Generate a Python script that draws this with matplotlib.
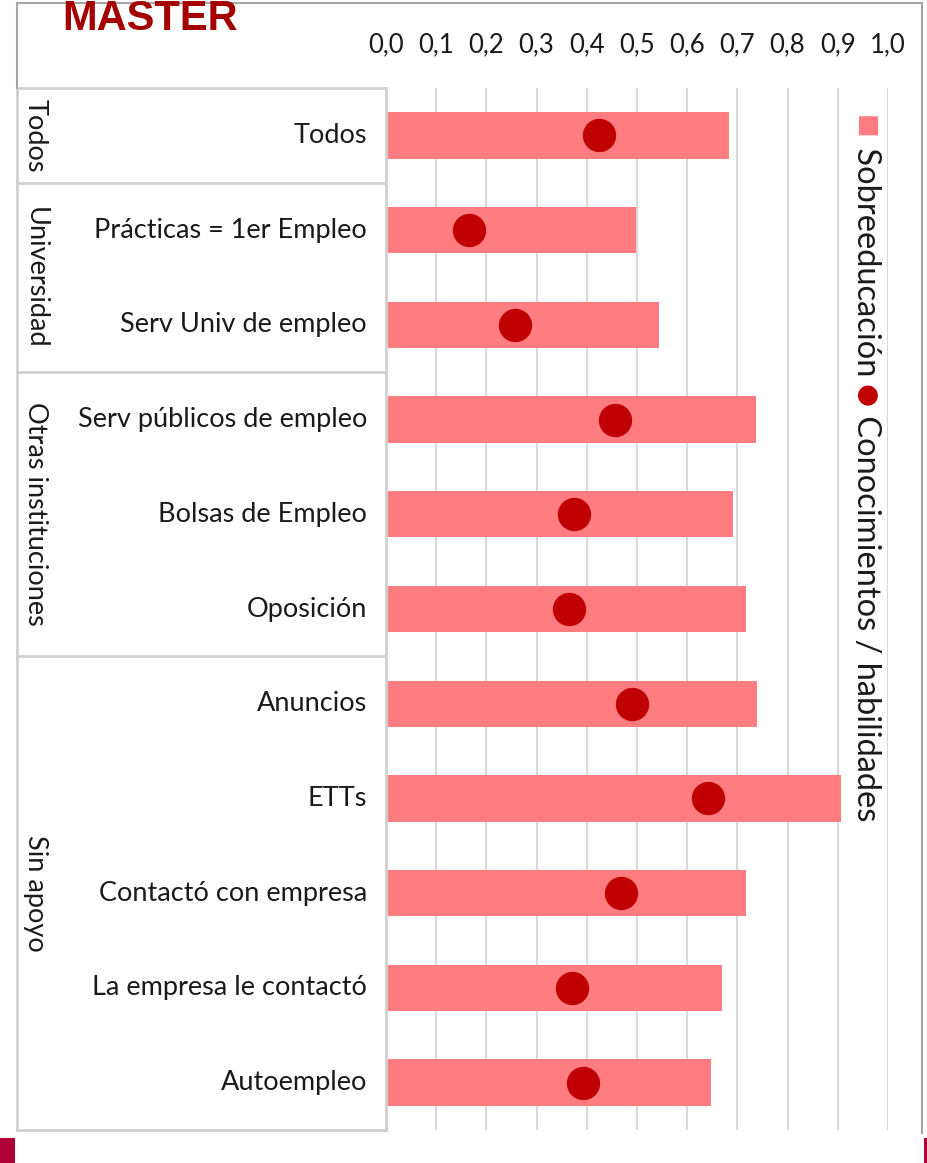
import matplotlib
matplotlib.use('Agg')
import matplotlib.pyplot as plt
from matplotlib.lines import Line2D
from matplotlib.patches import Rectangle
from matplotlib.ticker import FuncFormatter

# datos
categorias = ['Todos', 'Prácticas = 1er Empleo', 'Serv Univ de empleo',
              'Serv públicos de empleo', 'Bolsas de Empleo', 'Oposición',
              'Anuncios', 'ETTs', 'Contactó con empresa',
              'La empresa le contactó', 'Autoempleo']
sobreeducacion = [0.683, 0.498, 0.544, 0.737, 0.691, 0.717,
                  0.739, 0.906, 0.717, 0.669, 0.647]
conocimientos = [0.424, 0.165, 0.257, 0.456, 0.375, 0.365,
                 0.490, 0.641, 0.468, 0.371, 0.392]
grupos = ['Todos', 'Universidad', 'Otras instituciones', 'Sin apoyo']
grupo_n = [1, 2, 3, 5]

W, H = 928, 1163
FONT = 'Lato'
FS = 19.5
fig = plt.figure(figsize=(W / 100, H / 100), dpi=100)
fig.patch.set_facecolor('white')

def fx(px):
    return px / W

def fy(py):
    return 1 - py / H

top, bottom = 88, 1130
ax = fig.add_axes([fx(386), fy(bottom), fx(888 - 386), (bottom - top) / H])
tab = fig.add_axes([fx(17), fy(bottom), fx(386 - 17), (bottom - top) / H])

ypos = list(range(len(categorias)))
ax.barh(ypos, sobreeducacion, height=0.49, color='#FF7C80', zorder=2)
ax.plot(conocimientos, ypos, 'o', ms=23, color='#C00000', mec='#C00000', zorder=3)

ax.set_xlim(0, 1)
ax.set_ylim(len(categorias) - 0.5, -0.5)
ax.set_xticks([i / 10 for i in range(11)])
ax.xaxis.set_major_formatter(FuncFormatter(lambda v, p: f'{v:.1f}'.replace('.', ',')))
ax.xaxis.tick_top()
ax.tick_params(axis='x', length=0, pad=22, labelsize=18.5, labelcolor='#1a1a1a')
for lab in ax.get_xticklabels():
    lab.set_fontfamily(FONT)
ax.set_yticks([])
ax.grid(axis='x', color='#D9D9D9', lw=1.5, zorder=0)
for s in ax.spines.values():
    s.set_visible(False)

# tabla de la izquierda
tab.set_xlim(0, 1)
tab.set_ylim(len(categorias) - 0.5, -0.5)
tab.axis('off')
lc = '#D0D0D0'
bordes = [-0.5]
for n in grupo_n:
    bordes.append(bordes[-1] + n)
for b in bordes:
    tab.plot([0, 1], [b, b], color=lc, lw=2, clip_on=False)
tab.plot([0, 0], [bordes[0], bordes[-1]], color=lc, lw=2, clip_on=False)
tab.plot([1, 1], [bordes[0], bordes[-1]], color=lc, lw=2, clip_on=False)

for i, c in enumerate(categorias):
    tab.text((367 - 17) / 369, i, c, ha='right', va='center',
             fontsize=FS, family=FONT, color='#1a1a1a')
for g, a, b in zip(grupos, bordes[:-1], bordes[1:]):
    tab.text((35 - 17) / 369, (a + b) / 2, g, rotation=270, ha='center',
             va='center', fontsize=FS, family=FONT, color='#1a1a1a',
             rotation_mode='anchor')

# marco
fc = '#A6A6A6'
fig.add_artist(Line2D([fx(17), fx(922)], [fy(3), fy(3)], color=fc, lw=1.5))
fig.add_artist(Line2D([fx(17), fx(17)], [fy(3), fy(88)], color=fc, lw=1.5))
fig.add_artist(Line2D([fx(922), fx(922)], [fy(3), fy(1133)], color=fc, lw=1.5))
fig.add_artist(Rectangle((0, 0), fx(15), (H - 1138) / H, color='#B0003A', lw=0))
fig.add_artist(Rectangle((fx(924), 0), fx(4), (H - 1138) / H, color='#B0003A', lw=0))

fig.text(fx(62), fy(30), 'MASTER', fontsize=30, weight='bold',
         family='Liberation Sans', color='#A50000', va='baseline')

# leyenda vertical
r = fig.canvas.get_renderer()
LFS = 23.5
piezas = [('■', '#FF7C80', 'DejaVu Sans', 18),
          (' Sobreeducación ', '#1a1a1a', FONT, LFS),
          ('●', '#C00000', 'DejaVu Sans', 19),
          (' Conocimientos / habilidades', '#1a1a1a', FONT, LFS)]
y = 115
for txt, col, fam, sz in piezas:
    t = fig.text(fx(866), fy(y), txt, rotation=-90, ha='center', va='top',
                 color=col, family=fam, fontsize=sz)
    y += t.get_window_extent(r).height

fig.savefig('out.png', dpi=100, facecolor='white')
